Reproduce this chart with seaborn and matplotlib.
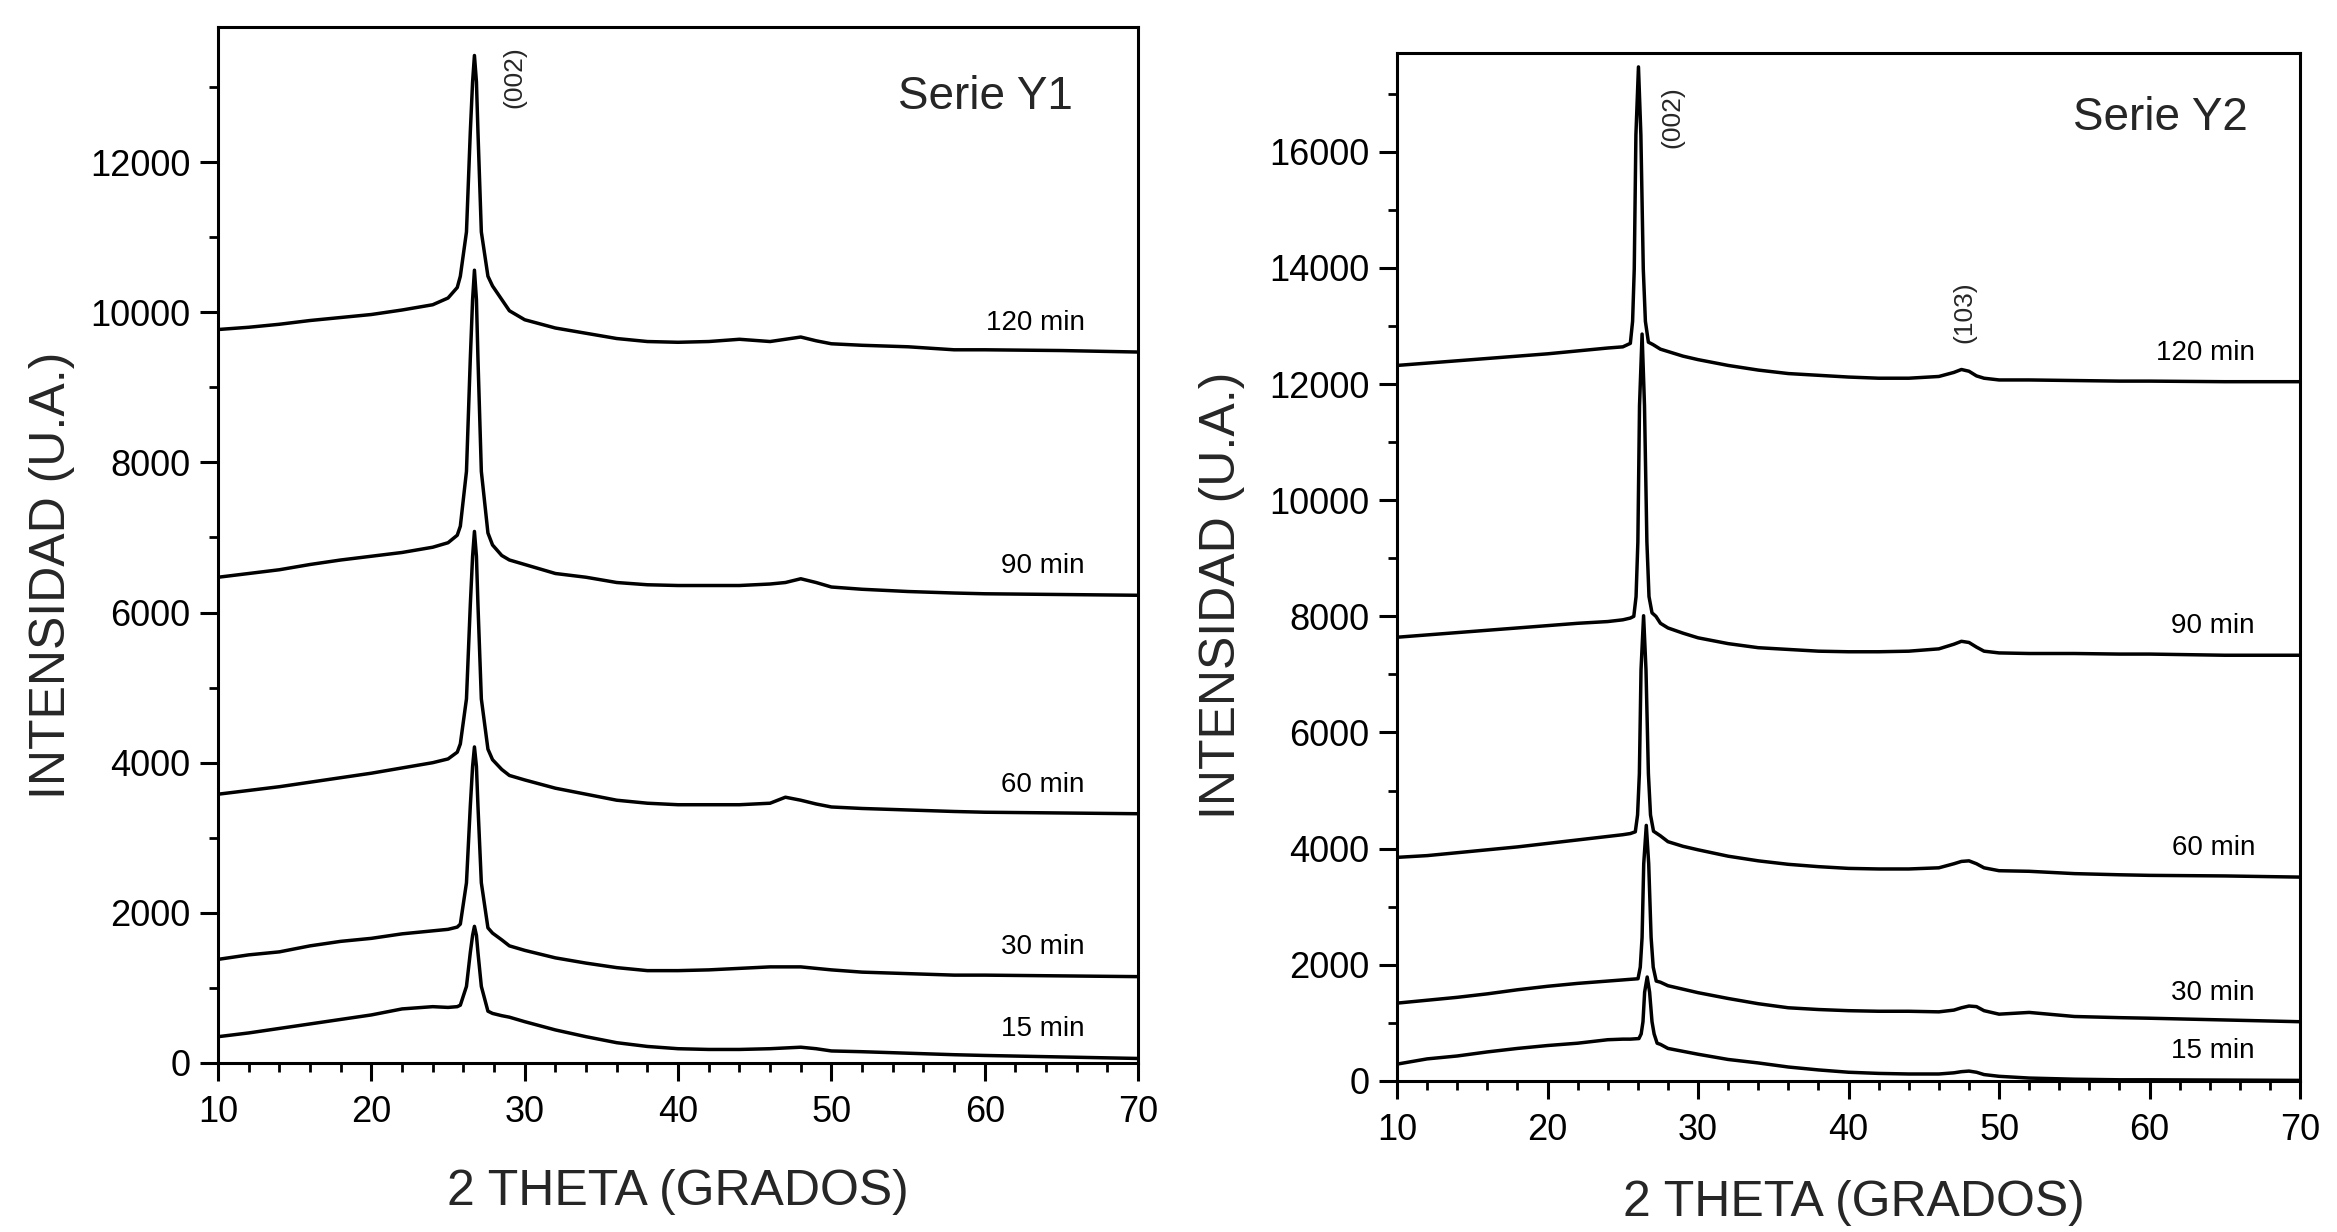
import matplotlib
matplotlib.use("Agg")
import matplotlib.pyplot as plt
from matplotlib.ticker import MultipleLocator
import pandas as pd
import seaborn as sns

# ---------------- DATA ----------------
curve_labels = ["120 min", "90 min", "60 min", "30 min", "15 min"]

# ---- Serie Y1 ----
y1_base_x = [10, 12, 14, 16, 18, 20, 22, 24, 25, 29, 30, 32, 34, 36, 38, 40, 42, 44,
             46, 47, 48, 49, 50, 52, 55, 58, 60, 65, 70]
y1_120_base = [9770, 9800, 9840, 9890, 9930, 9970, 10030, 10100, 10190, 10020, 9900, 9790, 9720,
               9650, 9610, 9600, 9610, 9640, 9610, 9640, 9670, 9620, 9580, 9560, 9540, 9500,
               9500, 9490, 9470]
y1_90_base = [6470, 6520, 6570, 6640, 6700, 6750, 6800, 6870, 6930, 6700, 6640, 6520, 6470,
              6400, 6370, 6360, 6360, 6360, 6380, 6400, 6450, 6400, 6340, 6310, 6280, 6260,
              6250, 6240, 6230]
y1_60_base = [3580, 3630, 3680, 3740, 3800, 3860, 3930, 4000, 4050, 3830, 3770, 3660, 3580,
              3500, 3460, 3440, 3440, 3440, 3460, 3540, 3500, 3450, 3410, 3390, 3370, 3350,
              3340, 3330, 3320]
y1_30_base = [1380, 1440, 1480, 1560, 1620, 1660, 1720, 1760, 1780, 1560, 1500, 1400, 1330,
              1270, 1230, 1230, 1240, 1260, 1280, 1280, 1280, 1260, 1240, 1210, 1190, 1170,
              1170, 1160, 1150]
y1_15_base = [350, 400, 460, 520, 580, 640, 720, 750, 740, 610, 550, 440, 350, 270, 220, 190,
              180, 180, 190, 200, 210, 190, 160, 150, 130, 110, 100, 80, 60]

y1_peak_x = [25.6, 25.8, 26.2, 26.45, 26.6, 26.72, 26.85, 26.95, 27.17, 27.6, 27.9, 28.5]
y1_120_peak = [10330, 10480, 11070, 12400, 13070, 13420, 13070, 12400, 11070, 10480, 10350, 10170]
y1_90_peak = [7030, 7150, 7880, 9380, 10170, 10560, 10170, 9380, 7880, 7060, 6900, 6760]
y1_60_peak = [4140, 4250, 4850, 6100, 6750, 7080, 6750, 6100, 4850, 4180, 4040, 3910]
y1_30_peak = [1810, 1850, 2400, 3420, 3950, 4210, 3950, 3420, 2400, 1800, 1730, 1640]
y1_15_peak = [750, 770, 1020, 1470, 1700, 1820, 1700, 1470, 1020, 690, 660, 630]

# ---- Serie Y2 ----
y2_base_x = [10, 12, 14, 16, 18, 20, 22, 24, 25, 28, 29, 30, 32, 34, 36, 38, 40, 42, 44,
             46, 47, 47.5, 48, 48.5, 49, 50, 52, 55, 58, 60, 65, 70]
y2_120_base = [12320, 12360, 12400, 12440, 12480, 12520, 12570, 12620, 12640, 12560, 12480,
               12420, 12320, 12240, 12180, 12150, 12120, 12100, 12100, 12130, 12200, 12250,
               12220, 12140, 12100, 12070, 12070, 12060, 12050, 12050, 12040, 12040]
y2_90_base = [7640, 7680, 7720, 7760, 7800, 7840, 7880, 7910, 7940, 7800, 7710, 7630, 7530,
              7460, 7430, 7400, 7390, 7390, 7400, 7440, 7520, 7570, 7550, 7470, 7400, 7370,
              7360, 7360, 7350, 7350, 7330, 7330]
y2_60_base = [3850, 3880, 3930, 3980, 4030, 4090, 4150, 4210, 4240, 4120, 4040, 3980, 3870,
              3790, 3730, 3690, 3660, 3650, 3650, 3670, 3740, 3780, 3790, 3740, 3670, 3620,
              3610, 3570, 3550, 3540, 3530, 3510]
y2_30_base = [1340, 1390, 1440, 1500, 1570, 1630, 1680, 1720, 1740, 1640, 1580, 1520, 1420,
              1330, 1260, 1230, 1210, 1200, 1200, 1190, 1220, 1260, 1290, 1280, 1210, 1150,
              1180, 1110, 1090, 1080, 1050, 1020]
y2_15_base = [290, 380, 430, 500, 560, 610, 650, 710, 720, 560, 510, 460, 370, 310, 240, 190,
              150, 130, 120, 120, 140, 160, 170, 150, 110, 80, 50, 30, 20, 20, 15, 10]

y2_120_peak_x = [25.5, 25.65, 25.76, 25.87, 26.04, 26.2, 26.36, 26.5, 26.7, 27.0, 27.5]
y2_120_peak = [12700, 13080, 13980, 16290, 17460, 16290, 13980, 13080, 12720, 12680, 12600]
y2_90_peak_x = [25.5, 25.73, 25.88, 26.0, 26.11, 26.28, 26.44, 26.6, 26.74, 26.94, 27.2, 27.5]
y2_90_peak = [7970, 8000, 8340, 9280, 11630, 12860, 11630, 9280, 8340, 8060, 8000, 7880]
y2_60_peak_x = [25.5, 25.83, 25.98, 26.1, 26.21, 26.38, 26.54, 26.7, 26.84, 27.04, 27.5]
y2_60_peak = [4260, 4290, 4580, 5290, 7080, 8010, 7080, 5290, 4580, 4300, 4220]
y2_30_peak_x = [25.5, 26.01, 26.16, 26.28, 26.39, 26.56, 26.72, 26.88, 27.02, 27.22, 27.5]
y2_30_peak = [1750, 1760, 1960, 2470, 3740, 4400, 3740, 2470, 1960, 1720, 1700]
y2_15_peak_x = [25.5, 26.07, 26.22, 26.34, 26.45, 26.62, 26.78, 26.94, 27.08, 27.28, 27.5]
y2_15_peak = [720, 730, 810, 1020, 1530, 1790, 1530, 1020, 810, 650, 630]

# ---------------- STYLE ----------------
sns.set_style("ticks")
plt.rcParams['font.family'] = ['Liberation Sans', 'DejaVu Sans']
plt.rcParams['axes.linewidth'] = 2.2

fig = plt.figure(figsize=(23.37, 12.32), dpi=100)
fig.patch.set_facecolor('white')
axL = fig.add_axes([0.0933, 0.1372, 0.3937, 0.8409])
axR = fig.add_axes([0.5978, 0.1226, 0.3864, 0.8344])


def make_df(bx, by, px, py):
    df = pd.DataFrame({'x': list(bx) + list(px), 'y': list(by) + list(py)})
    return df.sort_values('x').reset_index(drop=True)


left_curves = [
    (y1_120_base, y1_peak_x, y1_120_peak),
    (y1_90_base, y1_peak_x, y1_90_peak),
    (y1_60_base, y1_peak_x, y1_60_peak),
    (y1_30_base, y1_peak_x, y1_30_peak),
    (y1_15_base, y1_peak_x, y1_15_peak),
]
right_curves = [
    (y2_120_base, y2_120_peak_x, y2_120_peak),
    (y2_90_base, y2_90_peak_x, y2_90_peak),
    (y2_60_base, y2_60_peak_x, y2_60_peak),
    (y2_30_base, y2_30_peak_x, y2_30_peak),
    (y2_15_base, y2_15_peak_x, y2_15_peak),
]


def draw_panel(ax, base_x, curves, ymax, label_x, title, title_pos, hkl):
    for (by, px, py), lab in zip(curves, curve_labels):
        df = make_df(base_x, by, px, py)
        sns.lineplot(data=df, x='x', y='y', ax=ax, color='black', linewidth=2.5,
                     estimator=None, legend=False)
        ax.annotate(lab, xy=(label_x, by[-1]), xytext=(0, 21), textcoords='offset points',
                    ha='right', va='center', fontsize=20, color='black')
    ax.set_xlim(10, 70)
    ax.set_ylim(0, ymax)
    ax.xaxis.set_major_locator(MultipleLocator(10))
    ax.xaxis.set_minor_locator(MultipleLocator(2))
    ax.yaxis.set_major_locator(MultipleLocator(2000))
    ax.yaxis.set_minor_locator(MultipleLocator(1000))
    ax.tick_params(which='major', direction='out', length=13, width=2.2,
                   labelsize=26, color='black', labelcolor='black')
    ax.tick_params(which='minor', direction='out', length=6.5, width=2.0, color='black')
    ax.tick_params(axis='x', which='major', pad=10)
    ax.tick_params(axis='y', which='major', pad=7)
    for s in ax.spines.values():
        s.set_visible(True)
        s.set_color('black')
        s.set_linewidth(2.2)
    ax.set_xlabel("2 THETA (GRADOS)", fontsize=36)
    ax.set_ylabel("INTENSIDAD (U.A.)", fontsize=36)
    ax.text(title_pos[0], title_pos[1], title, transform=ax.transAxes, ha='right',
            va='center', fontsize=33)
    for (hx, hy, htxt) in hkl:
        ax.text(hx, hy, htxt, rotation=90, ha='center', va='center', fontsize=19)
    ax.set_facecolor('white')


draw_panel(axL, y1_base_x, left_curves, 13800, 66.5, "Serie Y1", (0.929, 0.932),
           [(29.3, 13130, "(002)")])
draw_panel(axR, y2_base_x, right_curves, 17700, 67.0, "Serie Y2", (0.942, 0.937),
           [(28.3, 16590, "(002)"), (47.7, 13240, "(103)")])

axL.xaxis.set_label_coords(0.5, -0.1245)
axL.xaxis.label.set_va('center')
axL.yaxis.set_label_coords(-0.18, 0.471)
axL.yaxis.label.set_va('center')
axR.xaxis.set_label_coords(0.506, -0.1187)
axR.xaxis.label.set_va('center')
axR.yaxis.set_label_coords(-0.194, 0.472)
axR.yaxis.label.set_va('center')

fig.savefig("out.png", dpi=100, facecolor='white')
